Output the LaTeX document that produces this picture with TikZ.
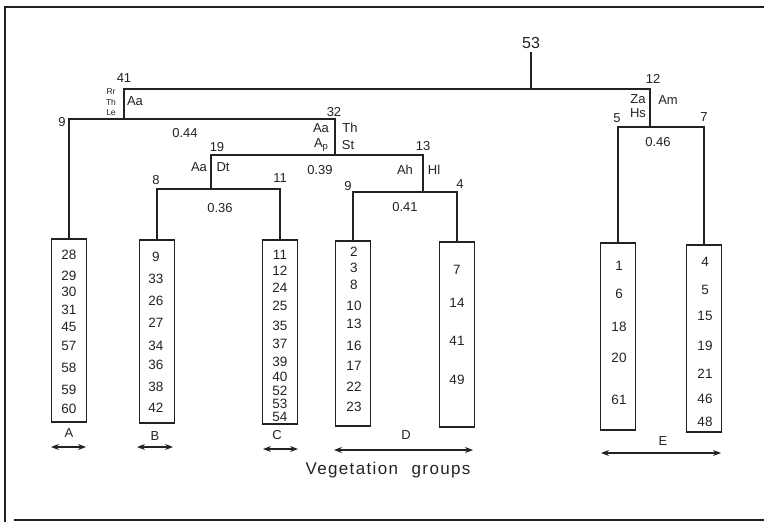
\documentclass[tikz,border=0pt]{standalone}
\usepackage{fontspec}
\setmainfont{Liberation Sans}
\usetikzlibrary{arrows.meta}
\definecolor{ink}{HTML}{222222}
\tikzset{
  tree/.style={draw=ink, line width=1.4pt},
  grpbox/.style={draw=ink, line width=1.4pt, minimum width=35pt, inner sep=0pt},
  lab/.style={text=ink, inner sep=0pt, font=\fontsize{13}{14}\selectfont},
  num/.style={text=ink, inner sep=0pt, font=\fontsize{13.5}{14}\selectfont},
  small/.style={text=ink, inner sep=0pt, font=\fontsize{8.5}{9}\selectfont},
  span/.style={draw=ink, line width=1.2pt, {Stealth[length=8pt,width=6pt]}-{Stealth[length=8pt,width=6pt]}},
  frame/.style={draw=ink, line width=1.8pt}
}
\begin{document}
\begin{tikzpicture}[x=1pt,y=-1pt]
\useasboundingbox (0,0) rectangle (764,522);
% frame
\draw[frame] (764,7) -- (5,7) -- (5,522);
\draw[frame] (14,520) -- (764,520);

% junction coordinates
\coordinate (root) at (531,52);
\coordinate (rootb) at (531,89);
\coordinate (j41) at (124,89);
\coordinate (j12) at (650,89);
\coordinate (j41b) at (124,119);
\coordinate (bA) at (69,119);
\coordinate (j32) at (335,119);
\coordinate (j32b) at (335,155);
\coordinate (j19) at (211,155);
\coordinate (j13) at (423,155);
\coordinate (j19b) at (211,189);
\coordinate (bB) at (157,189);
\coordinate (bC) at (280,189);
\coordinate (j13b) at (423,192);
\coordinate (bD1) at (353,192);
\coordinate (bD2) at (457,192);
\coordinate (j12b) at (650,127);
\coordinate (bE1) at (618,127);
\coordinate (bE2) at (704,127);

% boxes
\node[grpbox, minimum height=183pt] (boxA) at (69,330.5) {};
\node[grpbox, minimum height=183pt] (boxB) at (157,331.5) {};
\node[grpbox, minimum height=184pt] (boxC) at (280,332) {};
\node[grpbox, minimum height=185pt] (boxD1) at (353,333.5) {};
\node[grpbox, minimum height=185pt] (boxD2) at (457,334.5) {};
\node[grpbox, minimum height=187pt] (boxE1) at (618,336.5) {};
\node[grpbox, minimum height=187pt] (boxE2) at (704,338.5) {};

% tree
\draw[tree] (root) -- (rootb);
\draw[tree] (j41b) -- (j41) -- (j12) -- (j12b);
\draw[tree] (boxA.north) -- (bA) -- (j32) -- (j32b);
\draw[tree] (j19b) -- (j19) -- (j13) -- (j13b);
\draw[tree] (boxB.north) -- (bB) -- (bC) -- (boxC.north);
\draw[tree] (boxD1.north) -- (bD1) -- (bD2) -- (boxD2.north);
\draw[tree] (boxE1.north) -- (bE1) -- (bE2) -- (boxE2.north);

% node labels
\node[lab, font=\fontsize{16}{17}\selectfont] (l53) at (531,43) {53};
\node[lab] (l41) at (124,78) {41};
\node[lab] (l12) at (653,79) {12};
\node[lab] (l9a) at (62,122) {9};
\node[lab] (l32) at (334,112) {32};
\node[lab] (l19) at (217,147) {19};
\node[lab] (l13) at (423,146) {13};
\node[lab] (l8) at (156,180) {8};
\node[lab] (l11) at (280,178) {11};
\node[lab] (l9b) at (348,186) {9};
\node[lab] (l4) at (460,184) {4};
\node[lab] (l5) at (617,118) {5};
\node[lab] (l7) at (704,117) {7};

% similarity values
\node[lab] (s44) at (185,133) {0.44};
\node[lab] (s39) at (320,170) {0.39};
\node[lab] (s36) at (220,208) {0.36};
\node[lab] (s41) at (405,207) {0.41};
\node[lab] (s46) at (658,142) {0.46};

% species labels
\node[small] (sRr) at (111,92) {Rr};
\node[small] (sTh1) at (111,102) {Th};
\node[small] (sLe) at (111,112.5) {Le};
\node[lab] (sAa1) at (135,101) {Aa};
\node[lab] (sAa2) at (321,128) {Aa};
\node[lab] (sAp) at (321,145) {A\raisebox{-1.5pt}{\fontsize{9.5}{10}\selectfont p}};
\node[lab] (sTh2) at (350,128) {Th};
\node[lab] (sSt) at (348,145) {St};
\node[lab] (sAa3) at (199,167) {Aa};
\node[lab] (sDt) at (223,167) {Dt};
\node[lab] (sAh) at (405,170) {Ah};
\node[lab] (sHl) at (434,170) {Hl};
\node[lab] (sZa) at (638,99) {Za};
\node[lab] (sHs) at (638,113) {Hs};
\node[lab] (sAm) at (668,100) {Am};

% box contents
\foreach \t/\y [count=\i] in {28/255,29/276,30/292,31/310,45/327,57/346,58/368,59/390,60/409}
  \node[num] (a\i) at (69,\y) {\t};
\foreach \t/\y [count=\i] in {9/257,33/279,26/301,27/323,34/346,36/365,38/387,42/408}
  \node[num] (b\i) at (156,\y) {\t};
\foreach \t/\y [count=\i] in {11/255,12/271,24/288,25/306,35/326,37/344,39/362,40/377,52/391,53/404,54/417}
  \node[num] (c\i) at (280,\y) {\t};
\foreach \t/\y [count=\i] in {2/252,3/268,8/285,10/306,13/324,16/346,17/366,22/387,23/407}
  \node[num] (d\i) at (354,\y) {\t};
\foreach \t/\y [count=\i] in {7/270,14/303,41/341,49/380}
  \node[num] (e\i) at (457,\y) {\t};
\foreach \t/\y [count=\i] in {1/266,6/294,18/327,20/358,61/400}
  \node[num] (f\i) at (619,\y) {\t};
\foreach \t/\y [count=\i] in {4/262,5/290,15/316,19/346,21/374,46/399,48/422}
  \node[num] (g\i) at (705,\y) {\t};

% group labels and spans
\node[lab] (gA) at (69,433) {A};
\node[lab] (gB) at (155,436) {B};
\node[lab] (gC) at (277,435) {C};
\node[lab] (gD) at (406,435) {D};
\node[lab] (gE) at (663,441) {E};
\coordinate (aA1) at (51,447); \coordinate (aA2) at (86,447);
\coordinate (aB1) at (137,447); \coordinate (aB2) at (173,447);
\coordinate (aC1) at (263,449); \coordinate (aC2) at (298,449);
\coordinate (aD1) at (334,450); \coordinate (aD2) at (473,450);
\coordinate (aE1) at (601,453); \coordinate (aE2) at (721,453);
\draw[span] (aA1) -- (aA2);
\draw[span] (aB1) -- (aB2);
\draw[span] (aC1) -- (aC2);
\draw[span] (aD1) -- (aD2);
\draw[span] (aE1) -- (aE2);
\node[lab, font=\fontsize{17}{18}\selectfont\addfontfeature{LetterSpace=8}] (veg) at (388,470) {Vegetation\hspace{0.8em}groups};
\end{tikzpicture}
\end{document}
